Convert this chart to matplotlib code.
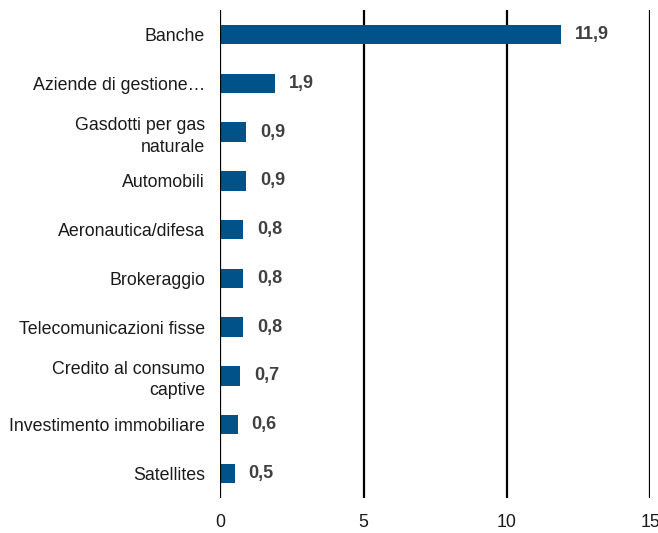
import numpy as np
import matplotlib.pyplot as plt

plt.rcParams['font.family'] = ['Liberation Sans', 'DejaVu Sans']

# Data
categories = ["Banche", "Aziende di gestione\u2026", "Gasdotti per gas\nnaturale", "Automobili",
              "Aeronautica/difesa", "Brokeraggio", "Telecomunicazioni fisse",
              "Credito al consumo\ncaptive", "Investimento immobiliare", "Satellites"]
values = [11.9, 1.9, 0.9, 0.9, 0.8, 0.8, 0.8, 0.7, 0.6, 0.5]
xticks = [0, 5, 10, 15]

fig = plt.figure(figsize=(6.58, 5.33), dpi=100)
ax = fig.add_axes([0.335, 0.066, 0.653, 0.915])

y = np.arange(len(categories))
ax.barh(y, values, height=0.4, color='#005288', zorder=3)

for yi, v in zip(y, values):
    ax.annotate(f"{v:.1f}".replace('.', ','), (v, yi), xytext=(10, 0),
                textcoords='offset points', va='center', ha='left',
                fontsize=13, fontweight='bold', color='#404040')

ax.set_xlim(0, 15)
ax.set_ylim(len(categories) - 0.5, -0.5)
ax.set_yticks(y)
ax.set_yticklabels(categories, fontsize=12.8, color='#1a1a1a', linespacing=1.35)
ax.set_xticks(xticks)
ax.set_xticklabels([str(t) for t in xticks], fontsize=12.8, color='#1a1a1a')
ax.tick_params(length=0, pad=12)
ax.tick_params(axis='y', pad=11)

for t in xticks:
    ax.axvline(t, color='black', linewidth=1.6, zorder=4 if t == 0 else 1)

for s in ax.spines.values():
    s.set_visible(False)

fig.savefig('out.png', dpi=100)
